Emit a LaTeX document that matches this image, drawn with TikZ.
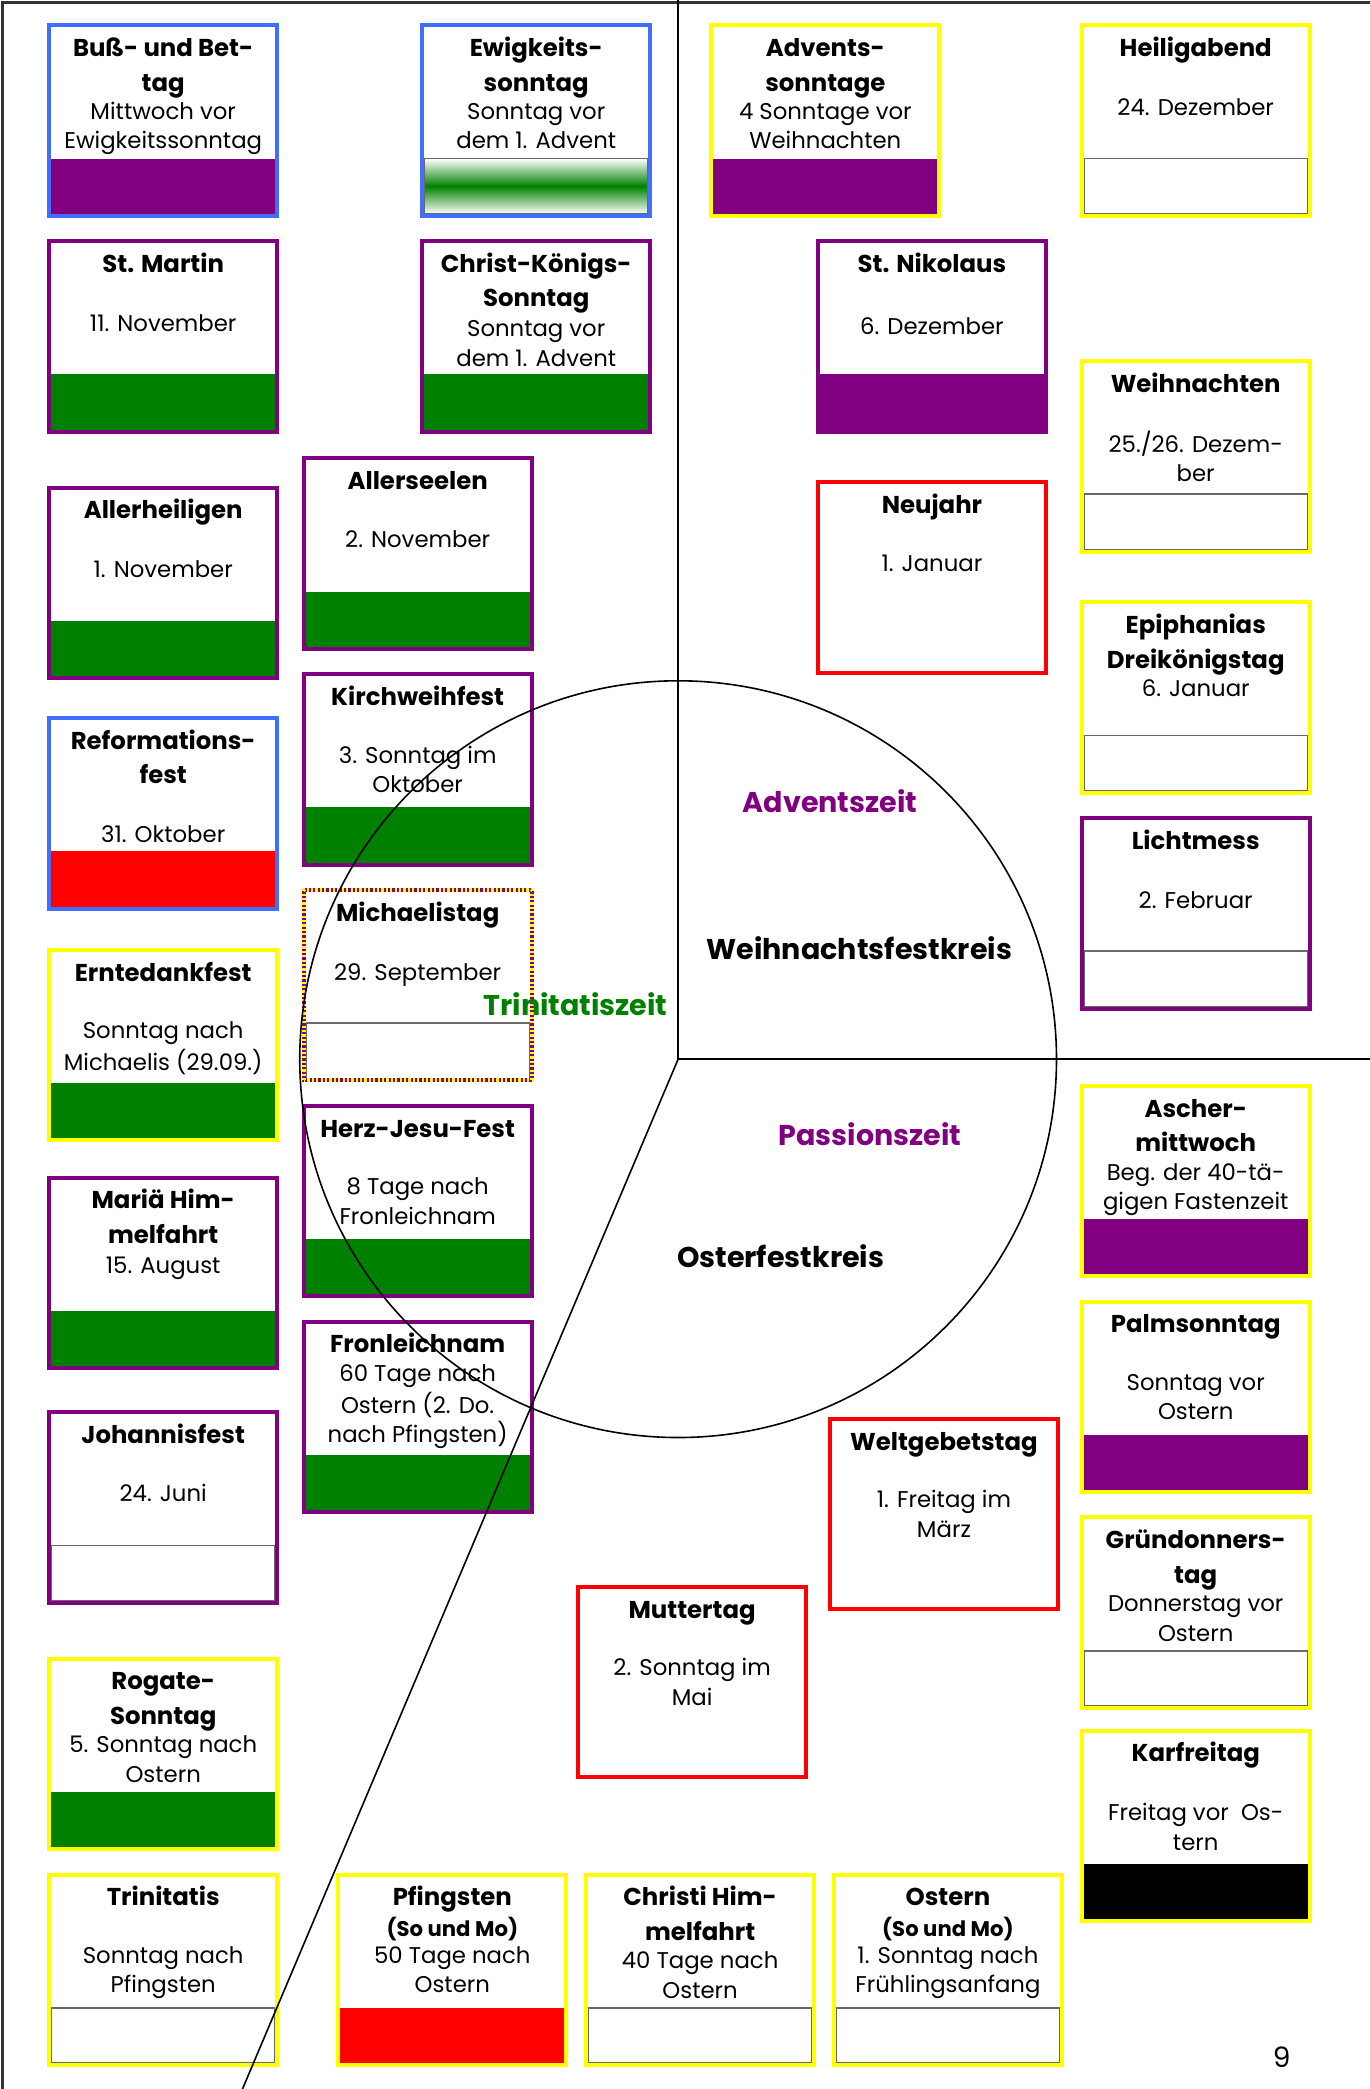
\documentclass[tikz,border=0pt]{standalone}
\usepackage{fontspec}
\setmainfont{Poppins}
\usetikzlibrary{calc}
\definecolor{purp}{RGB}{128,0,128}
\definecolor{grn}{RGB}{0,128,0}
\definecolor{myblue}{RGB}{66,110,255}
\definecolor{yel}{RGB}{255,255,0}
\definecolor{rd}{RGB}{255,0,0}
\definecolor{bandgray}{RGB}{105,105,105}
\def\px{0.6667pt}
\newcommand\titlef{\fontsize{12.2}{17.3}\selectfont\bfseries}
\newcommand\subf{\fontsize{11.4}{14.7}\selectfont}
\newcommand\smallttl{\fontsize{10.6}{14}\selectfont\bfseries}
\tikzset{
  festbox/.style={rectangle, inner sep=0pt, outer sep=0pt, minimum width=171*\px, minimum height=143*\px},
  ttlnode/.style={anchor=north, align=center, inner sep=0pt, font=\titlef},
  subnode/.style={anchor=north, align=center, inner sep=0pt, font=\subf},
  bblue/.style={draw=myblue, line width=2pt},
  byel/.style={draw=yel, line width=2pt},
  bpurp/.style={draw=purp, line width=2pt},
  bred/.style={draw=rd, line width=2pt},
  bstripe/.style={draw=purp, line width=2pt, postaction={draw=yel, line width=2pt, dash pattern=on 1.1pt off 1.1pt}},
  fpurp/.style={fill=purp},
  fgreen/.style={fill=grn},
  fred/.style={fill=rd},
  fblack/.style={fill=black},
  fwhite/.style={draw=bandgray, line width=0.8pt},
  fnone/.style={},
  fgrad/.style={top color=white, bottom color=white, middle color=grn, draw=bandgray, line width=0.8pt},
  seclabel/.style={font=\fontsize{14.3}{16}\selectfont\bfseries, inner sep=0pt},
  thinline/.style={draw=black, line width=0.8pt}
}
% #1 name #2 x #3 y #4 border #5 band #6 title #7 sub offset #8 sub
\newcommand\fest[8]{%
  \node[festbox, anchor=north west] (#1) at (#2,#3) {};
  \path[#5] ($(#1.south west)+(1.5,-43)$) rectangle ($(#1.south east)+(-1.5,-1.5)$);
  \draw[#4] (#1.south west) rectangle (#1.north east);
  \node[ttlnode] (#1-t) at ($(#1.north)+(0,5)$) {\strut #6};
  \node[subnode] (#1-s) at ($(#1.north)+(0,#7-10)$) {\strut #8};
}
\begin{document}
\begin{tikzpicture}[x=0.6667pt, y=-0.6667pt]
\useasboundingbox (0,0) rectangle (1028,1568);
\fill[white] (0,0) rectangle (1028,1568);

\fest{bussbettag}{37}{19}{bblue}{fpurp}{Buß- und Bet-\\tag}{65}{Mittwoch vor\\Ewigkeitssonntag}
\fest{ewigkeit}{317}{19}{bblue}{fgrad}{Ewigkeits-\\sonntag}{65}{Sonntag vor\\dem 1. Advent}
\fest{advent}{534}{19}{byel}{fpurp}{Advents-\\sonntage}{65}{4 Sonntage vor\\Weihnachten}
\fest{heiligabend}{812}{19}{byel}{fwhite}{Heiligabend}{62}{24. Dezember}
\fest{martin}{37}{181}{bpurp}{fgreen}{St. Martin}{62}{11. November}
\fest{christkoenig}{317}{181}{bpurp}{fgreen}{Christ-Königs-\\Sonntag}{66}{Sonntag vor\\dem 1. Advent}
\fest{nikolaus}{614}{181}{bpurp}{fpurp}{St. Nikolaus}{64}{6. Dezember}
\fest{weihnachten}{812}{271}{byel}{fwhite}{Weihnachten}{62}{25./26. Dezem-\\ber}
\fest{allerseelen}{228}{344}{bpurp}{fgreen}{Allerseelen}{61}{2. November}
\fest{allerheiligen}{37}{366}{bpurp}{fgreen}{Allerheiligen}{62}{1. November}
\fest{neujahr}{614}{362}{bred}{fnone}{Neujahr}{61}{1. Januar}
\fest{epiphanias}{812}{452}{byel}{fwhite}{Epiphanias\\Dreikönigstag}{65}{6. Januar}
\fest{kirchweih}{228}{506}{bpurp}{fgreen}{Kirchweihfest}{61}{3. Sonntag im\\Oktober}
\fest{reformation}{37}{539}{bblue}{fred}{Reformations-\\fest}{88}{31. Oktober}
\fest{lichtmess}{812}{614}{bpurp}{fwhite}{Lichtmess}{62}{2. Februar}
\fest{michaelis}{228}{668}{bstripe}{fwhite}{Michaelistag}{62}{29. September}
\fest{erntedank}{37}{713}{byel}{fgreen}{Erntedankfest}{61}{Sonntag nach\\Michaelis (29.09.)}
\fest{herzjesu}{228}{830}{bpurp}{fgreen}{Herz-Jesu-Fest}{61}{8 Tage nach\\Fronleichnam}
\fest{ascher}{812}{815}{byel}{fpurp}{Ascher-\\mittwoch}{65}{Beg. der 40-tä-\\gigen Fastenzeit}
\fest{mariae}{37}{884}{bpurp}{fgreen}{Mariä Him-\\melfahrt}{66}{15. August}
\fest{fronleichnam}{228}{992}{bpurp}{fgreen}{Fronleichnam}{39}{60 Tage nach\\Ostern (2. Do.\\nach Pfingsten)}
\fest{palm}{812}{977}{byel}{fpurp}{Palmsonntag}{61}{Sonntag vor\\Ostern}
\fest{johannis}{37}{1060}{bpurp}{fwhite}{Johannisfest}{61}{24. Juni}
\fest{weltgebet}{623}{1065}{bred}{fnone}{Weltgebetstag}{61}{1. Freitag im\\März}
\fest{gruendonn}{812}{1139}{byel}{fwhite}{Gründonners-\\tag}{65}{Donnerstag vor\\Ostern}
\fest{mutter}{434}{1191}{bred}{fnone}{Muttertag}{61}{2. Sonntag im\\Mai}
\fest{rogate}{37}{1245}{byel}{fgreen}{Rogate-\\Sonntag}{65}{5. Sonntag nach\\Ostern}
\fest{karfreitag}{812}{1299}{byel}{fblack}{Karfreitag}{62}{Freitag vor\ \ Os-\\tern}
\fest{trinitatis}{37}{1407}{byel}{fwhite}{Trinitatis}{61}{Sonntag nach\\Pfingsten}
\fest{pfingsten}{254}{1407}{byel}{fred}{Pfingsten\\[-2pt]{\smallttl (So und Mo)}}{61}{50 Tage nach\\Ostern}
\fest{christihim}{440}{1407}{byel}{fwhite}{Christi Him-\\melfahrt}{65}{40 Tage nach\\Ostern}
\fest{ostern}{626}{1407}{byel}{fwhite}{Ostern\\[-2pt]{\smallttl (So und Mo)}}{61}{1. Sonntag nach\\Frühlingsanfang}

% frame
\coordinate (tl) at (2,2);
\coordinate (tr) at (1028,2);
\coordinate (bl) at (2,1568);
\draw[draw=black!80, line width=1.3pt] (tr) -- (tl) -- (bl);

% circle and dividers
\coordinate (ctr) at (509,795);
\coordinate (vtop) at (509,0);
\coordinate (hend) at (1028,795);
\coordinate (dend) at (182,1568);
\node[circle, thinline, minimum size=568*\px, inner sep=0pt] (kreis) at (ctr) {};
\draw[thinline] (vtop) -- (ctr) -- (hend);
\draw[thinline] (ctr) -- (dend);

% labels
\node[seclabel, text=purp] (adventszeit) at (623,601) {Adventszeit};
\node[seclabel] (wfk) at (645,712) {Weihnachtsfestkreis};
\node[seclabel, text=grn] (trinitatiszeit) at (432,754) {Trinitatiszeit};
\node[seclabel, text=purp] (passionszeit) at (653,851) {Passionszeit};
\node[seclabel] (ofk) at (586,943) {Osterfestkreis};
\node[font=\fontsize{14}{16}\selectfont, inner sep=0pt] (pagenum) at (962,1544) {9};
\end{tikzpicture}
\end{document}
